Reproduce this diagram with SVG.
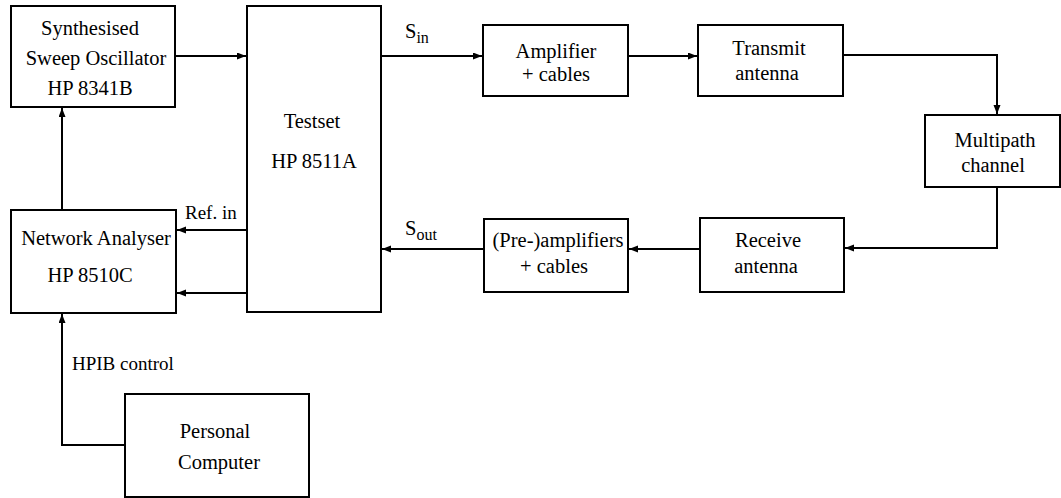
<svg xmlns="http://www.w3.org/2000/svg" width="1061" height="498" viewBox="0 0 1061 498">
<defs>
<marker id="ah" markerUnits="userSpaceOnUse" markerWidth="10" markerHeight="8" refX="9" refY="3.5" orient="auto">
<path d="M0,0 L9,3.5 L0,7 z" fill="#000"/>
</marker>
<style>
.box{fill:#fff;stroke:#000;stroke-width:2}
.t{font-family:"Liberation Serif","Times New Roman",serif;font-size:20.5px;fill:#000;text-anchor:middle}
.s{font-family:"Liberation Serif","Times New Roman",serif;font-size:19px;fill:#000}
.c{fill:none;stroke:#000;stroke-width:2;marker-end:url(#ah)}
</style>
</defs>
<rect width="1061" height="498" fill="#fff"/>
<g id="connectors">
<path class="c" d="M175,56 H246"/>
<path class="c" d="M62,210 V108"/>
<path class="c" d="M247,230 H177"/>
<path class="c" d="M247,293 H177"/>
<path class="c" d="M125,445 H62 V314"/>
<path class="c" d="M381,56 H482"/>
<path class="c" d="M628,56 H697"/>
<path class="c" d="M843,55 H997 V114"/>
<path class="c" d="M997,187 V248 H845"/>
<path class="c" d="M700,249 H629"/>
<path class="c" d="M484,249 H382"/>
<text class="s" x="185" y="219">Ref. in</text>
<text class="s" x="72" y="370">HPIB control</text>
<text class="s" x="405" y="38" style="font-size:20.5px">S<tspan dy="5" font-size="16">in</tspan></text>
<text class="s" x="405" y="235" style="font-size:20.5px">S<tspan dy="5" font-size="16">out</tspan></text>
</g>
<g id="synth">
<rect class="box" x="11" y="6" width="164" height="101"/>
<text class="t" x="90" y="35">Synthesised</text>
<text class="t" x="96" y="65">Sweep Oscillator</text>
<text class="t" x="90" y="95">HP 8341B</text>
</g>
<g id="testset">
<rect class="box" x="247" y="6" width="134" height="306"/>
<text class="t" x="312" y="128">Testset</text>
<text class="t" x="314" y="168">HP 8511A</text>
</g>
<g id="analyser">
<rect class="box" x="11" y="210" width="165" height="103"/>
<text class="t" x="96" y="245">Network Analyser</text>
<text class="t" x="90" y="282">HP 8510C</text>
</g>
<g id="pc">
<rect class="box" x="125" y="394" width="184" height="103"/>
<text class="t" x="215" y="438">Personal</text>
<text class="t" x="219" y="469">Computer</text>
</g>
<g id="amplifier">
<rect class="box" x="483" y="25" width="145" height="71"/>
<text class="t" x="556" y="58">Amplifier</text>
<text class="t" x="556" y="81">+ cables</text>
</g>
<g id="transmit">
<rect class="box" x="698" y="25" width="145" height="71"/>
<text class="t" x="769" y="55">Transmit</text>
<text class="t" x="767" y="80">antenna</text>
</g>
<g id="multipath">
<rect class="box" x="925" y="115" width="135" height="72"/>
<text class="t" x="995" y="147">Multipath</text>
<text class="t" x="993" y="172">channel</text>
</g>
<g id="receive">
<rect class="box" x="700" y="218" width="144" height="74"/>
<text class="t" x="768" y="247">Receive</text>
<text class="t" x="766" y="273">antenna</text>
</g>
<g id="preamp">
<rect class="box" x="484" y="219" width="144" height="73"/>
<text class="t" x="558" y="247">(Pre-)amplifiers</text>
<text class="t" x="554" y="273">+ cables</text>
</g>
</svg>
